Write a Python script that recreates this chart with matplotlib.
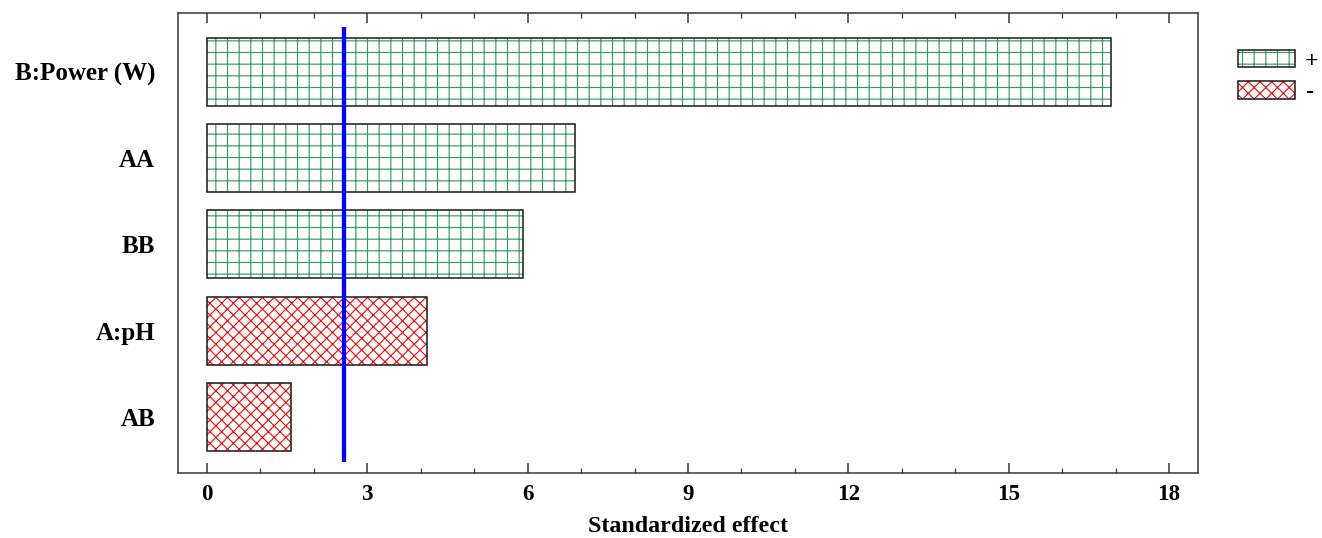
import matplotlib
matplotlib.use("Agg")
import matplotlib.pyplot as plt
from matplotlib.patches import Patch
from matplotlib.ticker import MultipleLocator

# effects, sorted top to bottom as in the chart
labels = ["B:Power (W)", "AA", "BB", "A:pH", "AB"]
effects = [16.92, 6.89, 5.91, 4.12, 1.57]
signs = ["+", "+", "+", "-", "-"]
critical = 2.571

DPI = 70
W, H = 1322, 538

def pt(px):
    return px * 72.0 / DPI

green = "#339966"
red = "#ee1111"
hatches = {"+": "+", "-": "xx"}
colors = {"+": green, "-": red}

plt.rcParams["font.family"] = ["Liberation Serif", "DejaVu Serif"]
plt.rcParams["font.weight"] = "bold"
plt.rcParams["hatch.linewidth"] = 1.2

fig = plt.figure(figsize=(W / DPI, H / DPI), dpi=DPI)
ax = fig.add_axes([178 / W, 1 - 473 / H, (1198 - 178) / W, (473 - 13) / H])

n = len(labels)
ypos = list(range(n - 1, -1, -1))
for y, v, s in zip(ypos, effects, signs):
    ax.barh(y, v, height=0.79, color="white", edgecolor=colors[s], hatch=hatches[s], linewidth=0)
    ax.barh(y, v, height=0.79, fill=False, edgecolor="#222222", linewidth=pt(1.6))

ax.vlines(critical, -0.52, 4.52, color="#0000ff", linewidth=pt(4.3))

ax.set_xlim(-0.54, 18.54)
ax.set_ylim(-0.65, 4.68)
ax.xaxis.set_major_locator(MultipleLocator(3))
ax.xaxis.set_minor_locator(MultipleLocator(1))
ax.tick_params(axis="x", which="major", direction="in", length=pt(10), width=pt(1.5),
               top=True, labelsize=pt(23), pad=pt(11), colors="#333333", labelcolor="black")
ax.tick_params(axis="x", which="minor", direction="in", length=pt(5), width=pt(1.2),
               top=True, colors="#333333")
ax.set_yticks(ypos)
ax.set_yticklabels(labels)
ax.tick_params(axis="y", length=0, labelsize=pt(25), pad=pt(23))
for lab in ax.get_xticklabels() + ax.get_yticklabels():
    lab.set_fontweight("bold")
for sp in ax.spines.values():
    sp.set_color("#333333")
    sp.set_linewidth(pt(1.5))

ax.set_xlabel("Standardized effect", fontsize=pt(24), fontweight="bold", labelpad=pt(11))

handles = []
for s in ["+", "-"]:
    fill = Patch(facecolor="white", edgecolor=colors[s], hatch=hatches[s], linewidth=0)
    edge = Patch(fill=False, edgecolor="#222222", linewidth=pt(1.6))
    handles.append((fill, edge))
leg = ax.legend(handles, ["+", "-"], loc="upper left", bbox_to_anchor=(1.039, 0.92),
                frameon=False, fontsize=pt(24), handlelength=2.4, handleheight=0.75,
                labelspacing=0.38, handletextpad=0.4, borderpad=0, borderaxespad=0)

fig.savefig("out.png", dpi=DPI)
